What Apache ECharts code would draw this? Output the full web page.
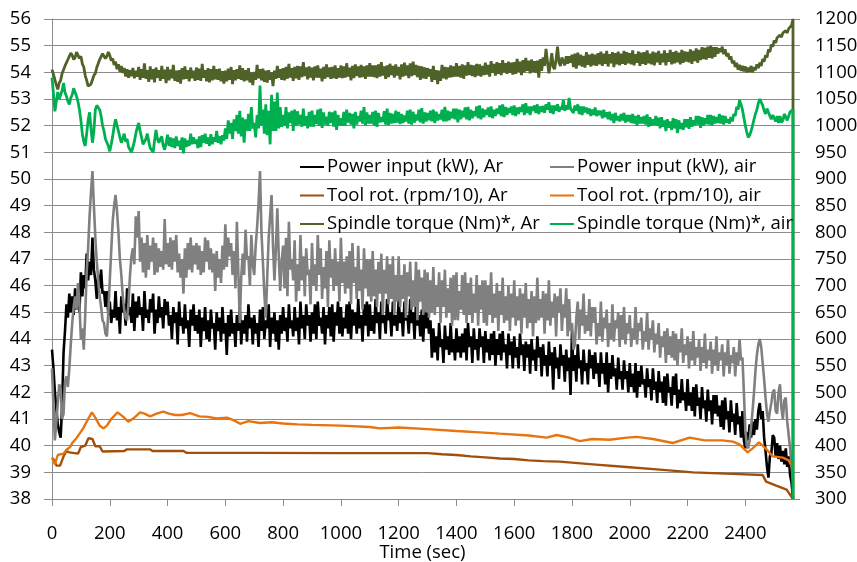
<!DOCTYPE html>
<html>
<head>
<meta charset="utf-8">
<script src="https://cdn.jsdelivr.net/npm/echarts@6/dist/echarts.min.js"></script>
<style>
  html, body { margin: 0; padding: 0; background: #fff; }
  #chart { width: 857px; height: 562px; }
</style>
</head>
<body>
<div id="chart"></div>
<script>
// sampling of the noisy records (s), last sample clamped to the end of the run
const STEP = 5;
const X_MAX = 2565;

// Power input (kW), Ar - left axis, one value every 5 s (20 per row = 100 s)
const powerAr = [
  43.6, 42.9, 42.0, 41.4, 40.8, 40.5, 40.3, 41.5, 43.5, 44.3, 45.3, 44.8, 45.7, 45.0, 45.6, 44.9, 45.9, 45.1, 45.8, 45.0,
  46.5, 45.6, 46.4, 45.9, 47.2, 46.2, 46.9, 46.4, 47.8, 46.6, 46.2, 45.5, 46.4, 45.9, 46.6, 45.7, 45.8, 45.2, 45.8, 44.9,
  45.4, 44.6, 45.1, 44.8, 45.8, 44.7, 45.2, 44.2, 45.6, 45.0, 45.3, 44.5, 45.9, 44.9, 45.2, 44.6, 45.7, 44.3, 45.4, 44.8,
  45.6, 44.9, 45.2, 44.3, 45.8, 44.8, 45.1, 44.6, 45.5, 45.0, 45.7, 44.2, 45.1, 44.6, 45.6, 44.8, 45.2, 44.4, 45.5, 44.9,
  45.4, 44.5, 44.9, 44.0, 45.2, 44.6, 45.0, 43.8, 45.4, 44.5, 44.8, 44.2, 45.3, 44.4, 44.7, 43.7, 45.1, 44.5, 45.3, 44.3,
  44.9, 44.2, 45.1, 43.7, 44.8, 44.3, 45.2, 44.0, 44.7, 43.9, 45.1, 44.4, 44.6, 43.6, 45.0, 44.3, 44.8, 43.9, 45.2, 44.2,
  44.6, 43.4, 44.9, 44.1, 45.1, 44.2, 44.6, 43.7, 44.9, 44.3, 45.2, 43.8, 44.7, 44.2, 44.9, 43.9, 45.3, 44.4, 44.8, 43.8,
  44.9, 44.2, 44.6, 43.7, 45.1, 44.3, 45.2, 44.0, 44.7, 44.4, 45.3, 43.7, 44.8, 44.2, 45.0, 43.9, 44.7, 43.6, 44.9, 44.2,
  45.2, 44.3, 44.8, 43.9, 45.3, 44.4, 44.7, 44.1, 45.2, 44.3, 44.8, 43.8, 45.4, 44.4, 44.9, 44.0, 45.3, 44.5, 44.9, 43.9,
  45.0, 44.2, 45.3, 44.0, 45.4, 44.5, 44.8, 44.2, 45.2, 43.8, 44.9, 44.4, 45.2, 44.1, 45.3, 43.9, 45.0, 44.5, 45.4, 44.2,
  45.2, 44.1, 44.8, 44.4, 45.3, 44.2, 45.4, 44.0, 45.1, 44.5, 45.0, 44.2, 45.5, 44.4, 44.9, 43.9, 45.3, 44.5, 45.4, 44.1,
  45.3, 44.3, 44.9, 44.2, 45.5, 44.6, 45.0, 44.0, 45.4, 44.6, 44.9, 44.2, 45.5, 44.7, 45.0, 44.1, 45.4, 44.5, 44.9, 44.3,
  45.5, 44.6, 45.0, 44.1, 45.4, 44.7, 44.9, 44.2, 45.5, 44.6, 45.0, 44.0, 45.4, 44.5, 44.9, 44.1, 45.1, 43.9, 45.2, 44.4,
  45.0, 44.2, 44.7, 43.3, 44.4, 43.5, 44.1, 43.2, 44.6, 43.7, 44.0, 43.1, 44.5, 43.6, 44.1, 43.4, 44.6, 43.5, 44.0, 43.2,
  44.4, 43.5, 44.1, 43.3, 44.2, 43.5, 44.4, 43.2, 44.6, 43.7, 44.1, 43.1, 44.4, 43.6, 44.0, 43.2, 44.4, 43.7, 44.1, 43.1,
  44.3, 43.5, 44.0, 43.2, 44.2, 43.4, 44.3, 43.0, 44.0, 43.4, 44.2, 43.2, 44.3, 43.5, 43.8, 42.9, 44.2, 43.4, 43.9, 42.9,
  44.1, 43.3, 43.7, 42.9, 44.2, 43.4, 43.8, 42.8, 43.9, 43.3, 43.8, 42.7, 44.0, 43.2, 43.6, 42.8, 44.1, 43.3, 43.7, 42.6,
  43.8, 43.0, 43.4, 42.6, 43.9, 43.0, 43.5, 42.1, 43.7, 42.9, 43.3, 42.5, 43.8, 43.0, 43.4, 42.4, 43.6, 42.8, 43.3, 41.9,
  44.3, 42.8, 43.4, 42.4, 43.8, 42.9, 43.2, 42.3, 43.6, 42.8, 43.1, 42.3, 43.6, 42.9, 43.4, 42.5, 43.5, 42.7, 43.1, 42.2,
  43.5, 42.7, 43.1, 42.3, 43.5, 42.0, 43.1, 42.5, 43.4, 42.6, 42.9, 42.1, 43.3, 42.5, 42.8, 42.1, 43.2, 42.5, 42.8, 42.0,
  43.1, 42.2, 42.7, 42.0, 43.1, 41.8, 42.8, 42.2, 43.0, 42.3, 42.5, 41.8, 42.9, 42.2, 42.5, 41.7, 42.9, 42.1, 42.4, 41.6,
  42.8, 42.0, 42.4, 41.6, 42.6, 41.5, 42.7, 42.0, 42.2, 41.5, 42.6, 41.9, 42.7, 41.4, 42.1, 41.6, 42.5, 41.7, 42.0, 41.3,
  42.5, 41.5, 42.0, 41.3, 42.2, 41.1, 42.3, 41.5, 41.8, 41.0, 42.2, 41.4, 41.7, 40.9, 42.1, 41.3, 41.7, 40.8, 41.9, 41.2,
  41.9, 41.1, 41.5, 40.7, 41.7, 40.6, 41.8, 41.0, 41.3, 40.5, 41.7, 40.9, 41.2, 40.4, 41.6, 40.8, 41.1, 40.3, 41.3, 40.2,
  39.9, 40.5, 40.2, 40.8, 40.3, 40.9, 40.4, 41.0, 40.6, 41.3, 41.6, 41.0, 41.3, 40.3, 39.8, 39.2, 38.8, 39.6, 39.7, 40.4,
  40.3, 39.6, 40.1, 39.5, 40.0, 39.4, 39.8, 39.3, 39.9, 39.2, 39.6, 38.9, 38.6, 38.0
];

// Power input (kW), air - left axis, every 5 s
const powerAir = [
  42.9, 41.5, 40.2, 40.9, 41.6, 42.3, 42.1, 41.0, 41.2, 42.4, 42.6, 42.2, 42.9, 43.8, 44.6, 45.2, 45.6, 45.1, 46.1, 45.3,
  44.0, 44.4, 43.6, 44.9, 46.5, 47.4, 48.6, 49.5, 50.3, 49.0, 47.8, 46.9, 46.2, 45.6, 45.2, 44.7, 44.6, 44.2, 44.1, 45.0,
  46.2, 47.3, 48.4, 49.0, 49.4, 48.8, 48.0, 47.0, 46.4, 45.6, 45.1, 44.8, 44.7, 45.4, 46.4, 47.1, 47.4, 46.8, 48.6, 47.8,
  48.8, 46.9, 47.8, 46.5, 47.6, 46.3, 47.9, 46.6, 47.5, 46.9, 47.8, 46.4, 47.6, 46.5, 47.4, 46.7, 47.3, 46.6, 48.5, 46.8,
  47.6, 46.7, 47.8, 46.6, 47.7, 46.9, 47.9, 46.5, 47.2, 46.3, 47.0, 45.7, 47.4, 46.3, 47.6, 46.6, 47.8, 46.5, 47.5, 46.8,
  47.6, 46.6, 47.5, 46.4, 47.3, 46.5, 47.8, 46.9, 47.7, 46.6, 47.4, 46.5, 47.2, 45.8, 47.3, 46.3, 47.0, 46.1, 47.5, 46.6,
  48.3, 46.7, 47.8, 47.1, 47.6, 46.4, 47.3, 45.9, 48.4, 46.5, 44.6, 46.3, 47.2, 46.4, 48.1, 47.0, 47.1, 46.0, 47.9, 46.8,
  46.4, 47.5, 48.2, 49.1, 50.3, 48.0, 46.9, 45.7, 44.8, 46.3, 47.8, 48.6, 49.4, 47.5, 46.2, 47.4, 48.9, 47.1, 45.8, 46.9,
  47.5, 45.9, 47.8, 45.6, 48.4, 46.6, 47.0, 46.2, 47.7, 45.4, 46.8, 45.8, 47.9, 46.2, 47.1, 45.6, 47.4, 46.4, 46.6, 45.3,
  47.6, 46.0, 46.8, 45.8, 47.9, 46.4, 47.4, 45.5, 46.7, 45.9, 47.3, 45.2, 47.7, 46.3, 47.0, 45.8, 47.4, 46.0, 46.9, 45.4,
  47.8, 46.1, 46.9, 45.7, 47.1, 45.9, 47.3, 45.3, 47.6, 46.1, 46.7, 45.5, 47.5, 45.8, 46.6, 45.1, 47.4, 45.9, 47.0, 45.6,
  47.0, 45.4, 47.3, 45.6, 46.6, 45.2, 46.9, 45.7, 47.2, 44.9, 46.6, 45.7, 47.1, 45.3, 46.8, 45.5, 47.1, 44.9, 46.4, 45.4,
  47.1, 45.2, 46.4, 45.5, 46.8, 44.8, 46.5, 45.6, 46.9, 45.1, 46.2, 45.2, 46.9, 44.7, 46.6, 45.4, 46.3, 44.9, 46.6, 45.0,
  46.5, 44.8, 46.2, 45.0, 46.7, 44.9, 46.0, 45.2, 46.5, 44.6, 46.2, 45.2, 46.6, 44.8, 45.9, 45.0, 46.3, 44.5, 46.4, 44.7,
  46.5, 44.7, 45.8, 45.1, 46.4, 44.9, 46.5, 44.6, 46.1, 44.9, 46.3, 44.6, 45.7, 45.0, 46.4, 44.5, 46.0, 45.1, 46.2, 44.6,
  46.2, 44.5, 46.0, 44.9, 46.5, 44.6, 45.7, 44.8, 46.1, 44.3, 45.8, 44.9, 46.3, 44.6, 45.6, 44.7, 46.0, 44.3, 45.7, 44.8,
  46.2, 44.5, 45.6, 44.7, 45.9, 44.2, 45.7, 44.8, 46.1, 44.4, 45.5, 44.6, 45.8, 44.1, 45.6, 44.6, 46.3, 44.7, 45.5, 44.8,
  45.8, 44.2, 45.7, 44.7, 46.2, 44.5, 45.4, 44.8, 45.7, 44.1, 45.6, 45.0, 45.9, 44.3, 45.3, 44.8, 45.9, 44.1, 45.5, 44.3,
  44.6, 43.6, 43.8, 44.8, 45.4, 44.0, 45.1, 44.5, 45.7, 44.2, 44.9, 44.3, 45.5, 44.1, 45.2, 44.6, 45.2, 43.8, 44.6, 44.1,
  45.4, 43.9, 44.8, 44.4, 45.1, 43.7, 44.6, 44.0, 45.3, 43.9, 44.7, 44.4, 45.0, 43.7, 44.9, 44.0, 45.2, 43.8, 44.6, 44.2,
  44.9, 43.7, 44.4, 44.0, 45.2, 43.8, 44.6, 44.3, 44.8, 43.6, 44.3, 43.9, 45.0, 43.6, 44.4, 44.0, 44.7, 43.5, 44.2, 43.8,
  44.6, 43.3, 44.1, 43.7, 44.3, 43.1, 44.4, 43.4, 44.1, 43.3, 44.3, 43.2, 44.2, 43.0, 44.0, 43.5, 44.4, 43.1, 43.8, 43.4,
  44.1, 42.9, 43.9, 43.2, 44.3, 43.0, 43.7, 43.3, 44.0, 42.8, 43.7, 43.1, 44.2, 42.9, 43.6, 43.2, 43.9, 42.7, 43.6, 43.0,
  44.1, 42.8, 43.5, 43.2, 43.8, 42.6, 43.5, 43.0, 44.0, 42.7, 43.4, 43.1, 43.7, 42.6, 43.5, 43.0, 44.0, 43.2, 43.3, 42.0,
  40.6, 40.0, 39.9, 40.2, 40.7, 41.3, 42.0, 42.8, 43.4, 43.8, 44.0, 43.7, 43.1, 42.5, 41.8, 41.2, 40.9, 41.3, 41.6, 42.0,
  42.1, 41.3, 41.2, 42.0, 42.3, 41.4, 41.0, 41.7, 41.8, 40.9, 40.4, 39.9, 39.3, 38.6
];

// Tool rot. (rpm/10) - left axis, smooth records with their own times
const toolArTimes = [
  0, 8, 15, 28, 40, 50, 60, 90, 100, 115,
  126, 140, 150, 165, 175, 250, 258, 340, 348, 455,
  465, 700, 1000, 1300, 1350, 1400, 1450, 1500, 1550, 1600,
  1650, 1700, 1758, 1872, 1988, 2104, 2219, 2333, 2460, 2472,
  2507, 2543, 2565
];
const toolAr = [
  39.55, 39.45, 39.25, 39.25, 39.6, 39.8, 39.75, 39.7, 39.95, 40.0,
  40.28, 40.25, 39.98, 39.98, 39.78, 39.8, 39.86, 39.86, 39.8, 39.8,
  39.73, 39.73, 39.72, 39.72, 39.68, 39.65, 39.6, 39.56, 39.52, 39.5,
  39.45, 39.42, 39.4, 39.3, 39.2, 39.1, 39.0, 38.95, 38.9, 38.65,
  38.5, 38.35, 38.0
];
const toolAirTimes = [
  0, 10, 20, 30, 40, 50, 63, 70, 86, 108,
  125, 138, 150, 165, 178, 190, 205, 227, 245, 264,
  285, 305, 320, 340, 362, 385, 405, 426, 450, 478,
  510, 540, 570, 606, 630, 651, 680, 720, 760, 800,
  850, 900, 1000, 1100, 1135, 1200, 1300, 1400, 1481, 1550,
  1650, 1712, 1747, 1790, 1827, 1870, 1930, 1990, 2024, 2080,
  2149, 2207, 2260, 2320, 2357, 2380, 2408, 2425, 2447, 2470,
  2495, 2530, 2550, 2565
];
const toolAir = [
  39.55, 39.3, 39.65, 39.68, 39.7, 39.85, 39.95, 40.1, 40.3, 40.65,
  41.0, 41.25, 41.05, 40.75, 40.65, 40.75, 41.0, 41.25, 41.1, 40.9,
  41.05, 41.25, 41.2, 41.1, 41.2, 41.28, 41.2, 41.15, 41.15, 41.22,
  41.1, 41.08, 41.02, 41.05, 40.95, 40.82, 40.92, 40.85, 40.88, 40.83,
  40.8, 40.78, 40.75, 40.7, 40.65, 40.68, 40.62, 40.55, 40.5, 40.45,
  40.38, 40.3, 40.4, 40.3, 40.17, 40.25, 40.22, 40.3, 40.33, 40.25,
  40.1, 40.3, 40.2, 40.2, 40.15, 40.05, 39.75, 39.9, 40.12, 39.9,
  39.6, 39.55, 39.45, 39.15
];

// Spindle torque (Nm)* - right axis, every 5 s, last value is the drop at the end
const torqueAr = [
  1105, 1096, 1098, 1076, 1068, 1080, 1085, 1098, 1100, 1112, 1112, 1124, 1125, 1136, 1132, 1124, 1128, 1138, 1136, 1126,
  1130, 1116, 1110, 1094, 1085, 1074, 1072, 1078, 1080, 1094, 1098, 1109, 1112, 1124, 1126, 1135, 1135, 1126, 1130, 1138,
  1132, 1122, 1126, 1114, 1120, 1106, 1115, 1101, 1112, 1099, 1108, 1092, 1106, 1090, 1104, 1093, 1108, 1089, 1103, 1092,
  1110, 1086, 1106, 1090, 1117, 1088, 1104, 1082, 1111, 1087, 1106, 1081, 1109, 1090, 1104, 1084, 1112, 1088, 1105, 1080,
  1110, 1085, 1105, 1089, 1114, 1084, 1103, 1082, 1104, 1079, 1108, 1087, 1111, 1088, 1104, 1083, 1109, 1089, 1103, 1084,
  1109, 1086, 1107, 1084, 1116, 1090, 1104, 1083, 1108, 1081, 1106, 1085, 1112, 1087, 1106, 1086, 1107, 1083, 1102, 1079,
  1103, 1083, 1107, 1086, 1110, 1078, 1104, 1085, 1106, 1088, 1113, 1086, 1108, 1083, 1104, 1085, 1108, 1081, 1100, 1076,
  1101, 1086, 1114, 1089, 1106, 1085, 1107, 1082, 1103, 1081, 1104, 1086, 1100, 1074, 1103, 1088, 1112, 1090, 1106, 1086,
  1108, 1085, 1110, 1088, 1116, 1090, 1108, 1084, 1110, 1089, 1112, 1086, 1111, 1091, 1119, 1093, 1109, 1087, 1111, 1090,
  1109, 1085, 1111, 1090, 1113, 1090, 1107, 1083, 1110, 1088, 1115, 1091, 1109, 1088, 1110, 1089, 1113, 1088, 1108, 1090,
  1113, 1089, 1111, 1090, 1117, 1092, 1109, 1085, 1112, 1089, 1115, 1093, 1111, 1090, 1114, 1091, 1111, 1088, 1113, 1092,
  1117, 1092, 1113, 1091, 1113, 1089, 1115, 1092, 1119, 1094, 1111, 1088, 1113, 1091, 1116, 1095, 1112, 1090, 1115, 1094,
  1110, 1087, 1115, 1092, 1118, 1094, 1113, 1089, 1117, 1093, 1120, 1095, 1114, 1091, 1112, 1086, 1111, 1089, 1109, 1088,
  1108, 1092, 1106, 1082, 1112, 1086, 1104, 1078, 1103, 1084, 1114, 1089, 1110, 1087, 1109, 1090, 1113, 1091, 1111, 1092,
  1117, 1092, 1112, 1090, 1115, 1088, 1113, 1094, 1119, 1095, 1114, 1093, 1113, 1091, 1116, 1094, 1115, 1092, 1112, 1095,
  1118, 1096, 1114, 1092, 1121, 1099, 1116, 1094, 1119, 1097, 1117, 1095, 1123, 1100, 1117, 1097, 1120, 1099, 1118, 1096,
  1119, 1097, 1125, 1101, 1120, 1095, 1123, 1100, 1127, 1103, 1122, 1098, 1124, 1101, 1121, 1099, 1122, 1090, 1125, 1103,
  1128, 1112, 1144, 1120, 1098, 1115, 1136, 1110, 1106, 1125, 1148, 1118, 1112, 1128, 1125, 1113, 1130, 1116, 1130, 1118,
  1133, 1110, 1135, 1107, 1137, 1113, 1133, 1111, 1131, 1109, 1138, 1114, 1133, 1111, 1135, 1113, 1133, 1112, 1136, 1115,
  1139, 1112, 1135, 1116, 1140, 1111, 1134, 1117, 1138, 1110, 1136, 1115, 1139, 1113, 1135, 1116, 1140, 1114, 1138, 1117,
  1136, 1115, 1141, 1113, 1134, 1118, 1139, 1112, 1137, 1116, 1138, 1114, 1141, 1117, 1135, 1115, 1139, 1113, 1137, 1119,
  1140, 1114, 1135, 1119, 1141, 1113, 1136, 1120, 1142, 1115, 1138, 1117, 1140, 1119, 1137, 1115, 1142, 1118, 1139, 1120,
  1138, 1119, 1143, 1116, 1140, 1121, 1145, 1118, 1142, 1123, 1147, 1125, 1146, 1124, 1148, 1127, 1150, 1126, 1147, 1129,
  1147, 1135, 1145, 1138, 1148, 1134, 1143, 1130, 1136, 1124, 1130, 1117, 1122, 1110, 1118, 1105, 1114, 1103, 1112, 1102,
  1111, 1100, 1109, 1101, 1112, 1100, 1110, 1104, 1115, 1108, 1118, 1112, 1125, 1120, 1132, 1128, 1143, 1138, 1152, 1148,
  1160, 1155, 1165, 1162, 1170, 1166, 1174, 1171, 1178, 1174, 1182, 1180, 1188, 1200, 300
];
const torqueAir = [
  1090, 1060, 1027, 1045, 1063, 1050, 1047, 1066, 1080, 1062, 1055, 1046, 1040, 1052, 1058, 1070, 1067, 1055, 1045, 1030,
  1010, 985, 970, 962, 985, 1010, 1025, 995, 968, 990, 1030, 1038, 1040, 1030, 1018, 1000, 990, 975, 975, 962,
  952, 965, 980, 998, 1012, 1000, 990, 978, 968, 976, 985, 970, 975, 960, 960, 950, 952, 970, 985, 996,
  1005, 990, 978, 965, 962, 975, 985, 970, 958, 955, 950, 972, 992, 975, 968, 975, 980, 962, 955, 968,
  983, 962, 978, 960, 976, 958, 980, 962, 972, 955, 978, 948, 976, 960, 972, 962, 985, 965, 978, 966,
  974, 958, 980, 960, 982, 968, 985, 966, 978, 962, 984, 965, 978, 970, 990, 968, 980, 965, 982, 972,
  995, 975, 1010, 985, 1005, 975, 1012, 990, 1020, 985, 1028, 980, 1015, 968, 1012, 990, 1022, 990, 1035, 995,
  1005, 978, 1020, 995, 1075, 1000, 1030, 985, 1040, 982, 1028, 965, 1058, 990, 1045, 990, 1062, 995, 1035, 998,
  1020, 1000, 1035, 995, 1025, 1005, 1028, 990, 1030, 1000, 1027, 1002, 1020, 998, 1032, 1000, 1018, 995, 1026, 998,
  1028, 998, 1020, 1003, 1030, 1000, 1032, 996, 1025, 1002, 1017, 1000, 1026, 1005, 1025, 998, 1028, 992, 1020, 1000,
  1014, 1000, 1026, 1000, 1030, 1006, 1024, 1002, 1022, 995, 1026, 1002, 1018, 1008, 1028, 1004, 1035, 1000, 1025, 1004,
  1020, 1004, 1026, 1000, 1028, 998, 1024, 1006, 1016, 1007, 1027, 1002, 1032, 1001, 1024, 1004, 1022, 1005, 1028, 1006,
  1026, 1003, 1022, 1005, 1019, 1008, 1028, 1004, 1030, 1002, 1026, 1006, 1021, 1010, 1030, 1006, 1033, 1004, 1025, 1008,
  1024, 1010, 1028, 1008, 1030, 1005, 1026, 1010, 1022, 1012, 1030, 1008, 1035, 1008, 1028, 1010, 1026, 1014, 1032, 1012,
  1032, 1006, 1030, 1012, 1028, 1016, 1034, 1012, 1035, 1010, 1030, 1014, 1027, 1018, 1036, 1014, 1038, 1012, 1032, 1016,
  1030, 1020, 1034, 1016, 1036, 1014, 1030, 1018, 1032, 1022, 1038, 1018, 1040, 1016, 1035, 1020, 1033, 1024, 1036, 1020,
  1038, 1018, 1034, 1022, 1035, 1026, 1040, 1020, 1042, 1024, 1036, 1020, 1036, 1028, 1038, 1024, 1040, 1022, 1036, 1026,
  1037, 1024, 1040, 1030, 1044, 1024, 1038, 1022, 1038, 1028, 1040, 1026, 1035, 1030, 1048, 1028, 1038, 1030, 1052, 1032,
  1035, 1024, 1038, 1028, 1040, 1022, 1036, 1020, 1036, 1025, 1034, 1022, 1032, 1018, 1030, 1020, 1034, 1018, 1028, 1020,
  1028, 1014, 1030, 1016, 1025, 1012, 1026, 1010, 1022, 1005, 1024, 1010, 1018, 1008, 1022, 1010, 1024, 1006, 1020, 1008,
  1020, 1005, 1022, 1004, 1018, 1000, 1020, 1004, 1016, 1004, 1018, 1002, 1021, 998, 1016, 1000, 1012, 1002, 1018, 1000,
  1015, 995, 1016, 998, 1010, 990, 1012, 996, 1008, 992, 1014, 995, 1012, 986, 1010, 994, 1005, 992, 1012, 997,
  1012, 994, 1016, 998, 1010, 1000, 1018, 1002, 1018, 996, 1016, 1000, 1014, 1003, 1020, 1002, 1020, 1000, 1018, 1004,
  1016, 1005, 1022, 1004, 1019, 1002, 1018, 1006, 1012, 1004, 1016, 1008, 1022, 1018, 1035, 1030, 1048, 1040, 1030, 1015,
  1000, 988, 978, 982, 990, 1000, 1012, 1022, 1030, 1042, 1050, 1044, 1038, 1028, 1022, 1032, 1030, 1018, 1012, 1020,
  1020, 1008, 1018, 1005, 1018, 1006, 1010, 1022, 1025, 1010, 1012, 1026, 1028, 1030, 300
];

const FONT = '"Open Sans", "DejaVu Sans", sans-serif';
const AXIS_GRAY = '#8c8c8c';
const FONT_SIZE = 18.5;

function noisyPairs(values) {
  return values.map((v, i) => [Math.min(i * STEP, X_MAX), v]);
}
function pairs(times, values) {
  return times.map((t, i) => [t, values[i]]);
}
function lineSeries(name, color, data, yAxisIndex, width) {
  return {
    name: name,
    type: 'line',
    yAxisIndex: yAxisIndex,
    data: data,
    symbol: 'none',
    showSymbol: false,
    color: color,
    lineStyle: { color: color, width: width },
    emphasis: { disabled: true }
  };
}
// plain numbers, no thousands separator
const plain = v => String(v);

const legendStyle = {
  orient: 'vertical',
  top: 157,
  padding: 0,
  itemGap: 8.5,
  itemWidth: 24,
  itemHeight: 2,
  icon: 'rect',
  selectedMode: false,
  textStyle: { fontFamily: FONT, fontSize: FONT_SIZE, color: '#000', lineHeight: 20, padding: [0, 0, 0, -2] }
};

const chart = echarts.init(document.getElementById('chart'), null, { renderer: 'canvas' });
chart.setOption({
  animation: false,
  backgroundColor: '#fff',
  textStyle: { fontFamily: FONT },
  grid: { left: 52, right: 64, top: 19, bottom: 63, containLabel: false, outerBoundsMode: 'none' },
  legend: [
    Object.assign({ left: 300, data: ['Power input (kW), Ar', 'Tool rot. (rpm/10), Ar', 'Spindle torque (Nm)*, Ar'] }, legendStyle),
    Object.assign({ left: 550, data: ['Power input (kW), air', 'Tool rot. (rpm/10), air', 'Spindle torque (Nm)*, air'] }, legendStyle)
  ],
  xAxis: {
    type: 'value',
    min: 0,
    max: X_MAX,
    interval: 200,
    name: 'Time (sec)',
    nameLocation: 'middle',
    nameGap: 44,
    nameMoveOverlap: false,
    nameTextStyle: { fontFamily: FONT, fontSize: FONT_SIZE, color: '#000' },
    axisLine: { show: true, lineStyle: { color: AXIS_GRAY, width: 1 } },
    axisTick: { show: true, length: 7, lineStyle: { color: AXIS_GRAY } },
    axisLabel: { fontFamily: FONT, fontSize: FONT_SIZE, color: '#000', margin: 25, showMaxLabel: false, formatter: plain },
    splitLine: { show: false }
  },
  yAxis: [
    {
      type: 'value',
      min: 38,
      max: 56,
      interval: 1,
      axisLine: { show: true, lineStyle: { color: AXIS_GRAY, width: 1 } },
      axisTick: { show: true, length: 8, lineStyle: { color: AXIS_GRAY } },
      axisLabel: { fontFamily: FONT, fontSize: FONT_SIZE, color: '#000', margin: 21, formatter: plain },
      splitLine: { show: true, lineStyle: { color: AXIS_GRAY, width: 1 } }
    },
    {
      type: 'value',
      position: 'right',
      min: 300,
      max: 1200,
      interval: 50,
      axisLine: { show: true, lineStyle: { color: AXIS_GRAY, width: 1 } },
      axisTick: { show: true, length: 7, lineStyle: { color: AXIS_GRAY } },
      axisLabel: { fontFamily: FONT, fontSize: FONT_SIZE, color: '#000', margin: 22, formatter: plain },
      splitLine: { show: false }
    }
  ],
  series: [
    lineSeries('Power input (kW), Ar', '#000000', noisyPairs(powerAr), 0, 2.6),
    lineSeries('Power input (kW), air', '#808080', noisyPairs(powerAir), 0, 2.6),
    lineSeries('Tool rot. (rpm/10), Ar', '#A0500C', pairs(toolArTimes, toolAr), 0, 2.4),
    lineSeries('Tool rot. (rpm/10), air', '#E8730F', pairs(toolAirTimes, toolAir), 0, 2.4),
    lineSeries('Spindle torque (Nm)*, Ar', '#4F6228', noisyPairs(torqueAr), 1, 2.8),
    lineSeries('Spindle torque (Nm)*, air', '#00B050', noisyPairs(torqueAir), 1, 2.8)
  ]
});
</script>
</body>
</html>
